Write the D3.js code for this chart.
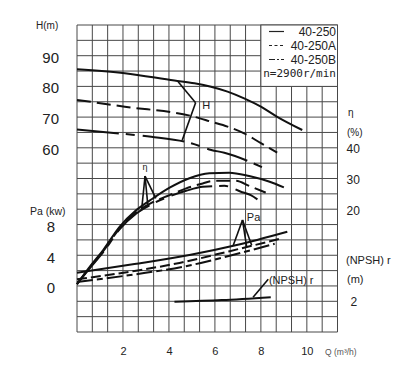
<!DOCTYPE html>
<html>
<head>
<meta charset="utf-8">
<script src="https://cdn.jsdelivr.net/npm/d3@7"></script>
<style>
  body { margin: 0; background: #fff; }
  text { font-family: "Liberation Sans", Arial, sans-serif; fill: #222; }
</style>
</head>
<body>
<div id="chart"></div>
<script>
// Q (m3/h) against head H (m)
const headSolid = [[0, 85.6], [2.08, 84.3], [4.24, 81.9], [5.11, 81.0], [5.83, 79.9], [6.55, 78.3], [7.27, 76.1], [8.0, 73.4], [8.71, 70.1], [9.8, 65.8]];
const headA = [[0, 75.6], [2.08, 73.4], [5.11, 70.1], [5.83, 68.5], [6.55, 66.9], [7.27, 64.7], [8.0, 61.5], [8.71, 58.4]];
const headB = [[0, 66.0], [2.08, 64.5], [3.23, 63.6], [4.97, 61.5], [5.84, 59.3], [6.41, 58.4], [8.07, 53.6]];

// Q against efficiency (%)
const etaSolid = [[0, -4.4], [0.56, 1.3], [1.14, 6.7], [1.86, 14.3], [2.58, 19.7], [3.3, 23.5], [4.03, 27.0], [4.89, 30.1], [5.76, 31.7], [6.62, 31.9], [7.49, 30.8], [8.35, 29.0], [9.0, 27.1]];
const etaA = [[0, -4.4], [0.56, 1.0], [1.14, 6.3], [1.86, 13.8], [2.58, 19.0], [3.3, 22.3], [4.03, 24.6], [4.75, 26.8], [5.47, 28.4], [5.9, 29.2], [6.91, 29.3], [7.49, 27.6], [8.21, 25.4]];
const etaB = [[0, -4.4], [0.56, 0.8], [1.14, 6.0], [1.86, 13.5], [2.58, 18.6], [3.3, 21.8], [4.03, 24.2], [4.75, 26.0], [5.47, 27.3], [6.41, 27.6], [7.13, 25.7], [7.56, 24.6], [7.85, 23.2]];

// Q against shaft power Pa (kW)
const powerSolid = [[0, 1.73], [2.5, 2.85], [4.89, 4.03], [6.9, 5.3], [9.15, 7.07]];
const powerA = [[0, 0.87], [2.5, 1.95], [4.46, 3.0], [6.6, 4.5], [8.9, 6.2]];
const powerB = [[0, 0.51], [2.5, 1.5], [4.7, 2.55], [6.6, 3.9], [8.6, 5.5]];

// Q against (NPSH)r (m)
const npsh = [[4.24, 1.97], [6.3, 2.08], [8.43, 2.27]];

// tick labels
const qTicks = [2, 4, 6, 8, 10];
const hTicks = [60, 70, 80, 90];
const paTicks = [0, 4, 8];
const etaTicks = [20, 30, 40];
const npshTicks = [2];

const legendNames = ["40-250", "40-250A", "40-250B"];

const width = 416, height = 377;
const svg = d3.select("#chart").append("svg")
    .attr("width", width)
    .attr("height", height);

// every quantity shares one 17 x 20 grid
const x = d3.scaleLinear().domain([0, 34 / 3]).range([77, 337.5]);
const yH = d3.scaleLinear().domain([0, 100]).range([332, 25]);
const yPa = d3.scaleLinear().domain([-6, 34]).range([332, 25]);
const yEta = d3.scaleLinear().domain([-20, 80]).range([332, 25]);
const yNpsh = d3.scaleLinear().domain([0, 20]).range([332, 25]);

const dashA = "14,6";
const dashB = "42,7,9,8";

// grid
const grid = svg.append("g").attr("stroke", "#484848").attr("stroke-width", 1);
grid.selectAll(".v")
    .data(d3.range(0, 18).map(k => k * 2 / 3))
    .join("line")
    .attr("x1", d => x(d)).attr("x2", d => x(d))
    .attr("y1", yH(100)).attr("y2", yH(0));
grid.selectAll(".h")
    .data(d3.range(0, 21).map(k => k * 5))
    .join("line")
    .attr("x1", x(0)).attr("x2", x(34 / 3))
    .attr("y1", d => yH(d)).attr("y2", d => yH(d));

// legend box sits on the grid, top right
svg.append("rect")
    .attr("x", x(8)).attr("y", yH(100))
    .attr("width", x(34 / 3) - x(8)).attr("height", yH(80) - yH(100))
    .attr("fill", "#fff").attr("stroke", "#484848");

// curves
const series = [
    {data: headSolid, y: yH, dash: null},
    {data: headA, y: yH, dash: dashA},
    {data: headB, y: yH, dash: dashB},
    {data: etaSolid, y: yEta, dash: null},
    {data: etaA, y: yEta, dash: dashA},
    {data: etaB, y: yEta, dash: dashB},
    {data: powerSolid, y: yPa, dash: null},
    {data: powerA, y: yPa, dash: "10,4"},
    {data: powerB, y: yPa, dash: "16,4,6,4"},
    {data: npsh, y: yNpsh, dash: null}
];

svg.append("g").selectAll("path")
    .data(series)
    .join("path")
    .attr("d", s => d3.line().x(d => x(d[0])).y(d => s.y(d[1])).curve(d3.curveMonotoneX)(s.data))
    .attr("fill", "none")
    .attr("stroke", "#111")
    .attr("stroke-width", 2)
    .attr("stroke-dasharray", s => s.dash);

// leader lines to curve labels
const leaders = [
    {y: yH, from: [5.16, 74.7], to: [[4.4, 81.5], [4.58, 62.5]]},
    {y: yEta, from: [2.96, 30.8], to: [[2.81, 19.7], [3.09, 20.7], [3.43, 23.5]]},
    {y: yPa, from: [7.2, 8.6], to: [[6.8, 5.3], [7.38, 5.1], [7.6, 5.3]]},
    {y: yNpsh, from: [8.32, 3.43], to: [[7.66, 2.26]]}
];
leaders.forEach(l => {
    svg.append("g").selectAll("line")
        .data(l.to)
        .join("line")
        .attr("x1", x(l.from[0])).attr("y1", l.y(l.from[1]))
        .attr("x2", d => x(d[0])).attr("y2", d => l.y(d[1]))
        .attr("stroke", "#111").attr("stroke-width", 1.6);
});

svg.append("text").attr("x", x(5.45)).attr("y", yH(72.6)).attr("font-size", 11).text("H");
svg.append("text").attr("x", x(2.96)).attr("y", yEta(32.8)).attr("font-size", 9).attr("text-anchor", "middle").text("η");
svg.append("text").attr("x", x(7.39)).attr("y", yPa(8.4)).attr("font-size", 11).text("Pa");
svg.append("text").attr("x", x(8.35)).attr("y", yNpsh(3.1)).attr("font-size", 11).text("(NPSH) r");

// axes: labels only, the grid does the rest
function style(g, size) {
    g.select(".domain").remove();
    g.attr("font-family", null).attr("font-size", size).attr("color", "#222");
}
svg.append("g").attr("transform", `translate(${x(0)},1.5)`)
    .call(d3.axisLeft(yH).tickValues(hTicks).tickSize(0).tickPadding(18))
    .call(g => style(g, 15));
svg.append("g").attr("transform", `translate(${x(0) - 3},2)`)
    .call(d3.axisLeft(yPa).tickValues(paTicks).tickSize(0).tickPadding(19))
    .call(g => style(g, 15));
svg.append("g").attr("transform", `translate(${x(34 / 3)},1)`)
    .call(d3.axisRight(yEta).tickValues(etaTicks).tickSize(0).tickPadding(9))
    .call(g => style(g, 12));
svg.append("g").attr("transform", `translate(${x(34 / 3)},0.5)`)
    .call(d3.axisRight(yNpsh).tickValues(npshTicks).tickSize(0).tickPadding(13))
    .call(g => style(g, 12));
svg.append("g").attr("transform", `translate(0,${yH(0)})`)
    .call(d3.axisBottom(x).tickValues(qTicks).tickSize(0).tickPadding(15))
    .call(g => style(g, 11));

// axis titles
svg.append("text").attr("x", 36).attr("y", 29).attr("font-size", 10).text("H(m)");
svg.append("text").attr("x", 30).attr("y", 215).attr("font-size", 10.5).text("Pa (kw)");
svg.append("text").attr("x", 348).attr("y", 116).attr("font-size", 10).text("η");
svg.append("text").attr("x", 347).attr("y", 136).attr("font-size", 10).text("(%)");
svg.append("text").attr("x", 346).attr("y", 264).attr("font-size", 11).text("(NPSH) r");
svg.append("text").attr("x", 347).attr("y", 283).attr("font-size", 11).text("(m)");
svg.append("text").attr("x", 325).attr("y", 355).attr("font-size", 8.5).style("fill", "#555")
    .text("Q (m³/h)");

// legend
const legendDash = [null, "3,2.5", "6,2,2,2"];
const legend = svg.append("g").selectAll("g")
    .data(legendNames)
    .join("g")
    .attr("transform", (d, i) => `translate(0,${31.5 + i * 14})`);
legend.append("line")
    .attr("x1", 269).attr("x2", 284)
    .attr("stroke", "#222").attr("stroke-width", 1.2)
    .attr("stroke-dasharray", (d, i) => legendDash[i]);
legend.append("text")
    .attr("x", 336).attr("dy", "0.35em")
    .attr("text-anchor", "end").attr("font-size", 12)
    .text(d => d);
svg.append("text")
    .attr("x", 336).attr("y", 73.5).attr("dy", "0.35em")
    .attr("text-anchor", "end").attr("font-size", 11)
    .style("font-family", "'DejaVu Sans Mono', monospace")
    .text("n=2900r/min");
</script>
</body>
</html>
